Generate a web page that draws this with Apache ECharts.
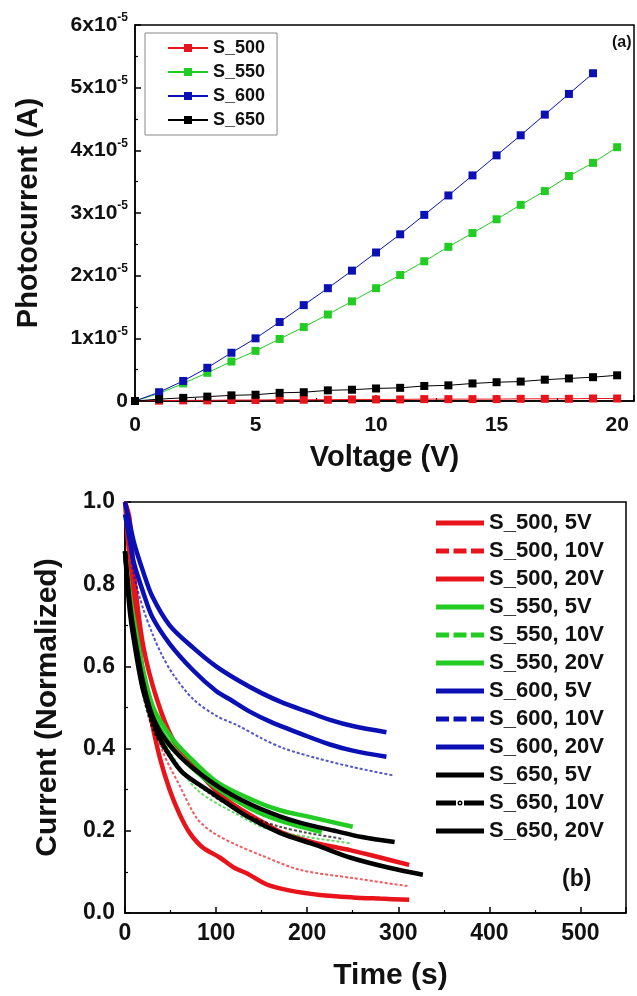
<!DOCTYPE html>
<html>
<head>
<meta charset="utf-8">
<script src="https://cdn.jsdelivr.net/npm/echarts@6/dist/echarts.min.js"></script>
<style>
    html, body { margin: 0; padding: 0; background: #fff; }
    #chart { width: 637px; height: 996px; }
</style>
</head>
<body>
<div id="chart"></div>
<script>
// ---- panel (a): photocurrent vs voltage, values in units of 1e-5 A ----
const volts = [0, 1, 2, 3, 4, 5, 6, 7, 8, 9, 10, 11, 12, 13, 14, 15, 16, 17, 18, 19, 20]
const a500 = [0, 0.005, 0.01, 0.01, 0.015, 0.015, 0.02, 0.02, 0.02, 0.025, 0.025, 0.025, 0.03, 0.03, 0.03, 0.03, 0.035, 0.035, 0.035, 0.04, 0.04]
const a550 = [0, 0.12, 0.28, 0.45, 0.63, 0.8, 0.99, 1.18, 1.38, 1.59, 1.8, 2.01, 2.23, 2.46, 2.68, 2.9, 3.13, 3.35, 3.59, 3.8, 4.05]
const a600 = [0, 0.14, 0.32, 0.53, 0.77, 1.0, 1.26, 1.53, 1.8, 2.08, 2.37, 2.66, 2.97, 3.28, 3.6, 3.92, 4.24, 4.57, 4.9, 5.23]
const a650 = [0, 0.03, 0.05, 0.07, 0.09, 0.1, 0.13, 0.14, 0.17, 0.18, 0.2, 0.21, 0.24, 0.25, 0.28, 0.3, 0.31, 0.34, 0.36, 0.38, 0.41]
const aNames = ['S_500', 'S_550', 'S_600', 'S_650']
const yTicksA = [0, 1, 2, 3, 4, 5, 6]

// ---- panel (b): normalized current decay, [time (s), current] ----
const b500_5 = [[0, 1.0], [5, 0.86], [10, 0.75], [15, 0.66], [20, 0.58], [27, 0.49], [38, 0.38], [49, 0.30], [60, 0.24], [71, 0.195], [85, 0.16], [104, 0.135], [120, 0.11], [135, 0.095], [155, 0.07], [180, 0.055], [214, 0.044], [250, 0.038], [280, 0.035], [312, 0.032]]
const b500_10 = [[0, 1.0], [5, 0.9], [10, 0.78], [20, 0.6], [30, 0.48], [42, 0.39], [60, 0.31], [79, 0.23], [97, 0.195], [123, 0.165], [150, 0.14], [192, 0.105], [250, 0.085], [312, 0.065]]
const b500_20 = [[0, 1.0], [5, 0.96], [10, 0.82], [20, 0.65], [35, 0.52], [53, 0.42], [68, 0.38], [90, 0.32], [115, 0.27], [148, 0.225], [173, 0.195], [210, 0.17], [247, 0.153], [280, 0.135], [312, 0.117]]
const b550_5 = [[0, 0.88], [5, 0.78], [10, 0.71], [20, 0.59], [31, 0.5], [50, 0.43], [68, 0.385], [100, 0.32], [140, 0.275], [170, 0.25], [200, 0.235], [250, 0.21]]
const b550_10 = [[0, 0.88], [5, 0.77], [10, 0.69], [20, 0.56], [31, 0.47], [50, 0.39], [79, 0.30], [123, 0.24], [156, 0.205], [200, 0.185], [247, 0.17]]
const b550_20 = [[0, 0.88], [5, 0.77], [10, 0.7], [20, 0.58], [31, 0.48], [50, 0.41], [68, 0.365], [100, 0.305], [137, 0.255], [170, 0.225], [216, 0.197]]
const b600_5 = [[0, 1.0], [5, 0.95], [10, 0.9], [20, 0.83], [30, 0.77], [49, 0.70], [75, 0.645], [100, 0.60], [125, 0.565], [150, 0.535], [175, 0.51], [200, 0.49], [225, 0.47], [250, 0.455], [287, 0.44]]
const b600_10 = [[0, 1.0], [5, 0.9], [10, 0.82], [20, 0.74], [30, 0.68], [40, 0.63], [53, 0.58], [75, 0.52], [100, 0.48], [125, 0.455], [150, 0.425], [175, 0.40], [210, 0.377], [250, 0.355], [294, 0.335]]
const b600_20 = [[0, 0.97], [5, 0.91], [10, 0.85], [20, 0.78], [30, 0.72], [49, 0.655], [75, 0.59], [100, 0.54], [115, 0.52], [137, 0.49], [160, 0.465], [200, 0.43], [225, 0.41], [250, 0.395], [287, 0.38]]
const b650_5 = [[0, 0.88], [5, 0.76], [10, 0.68], [20, 0.56], [30, 0.48], [45, 0.42], [68, 0.365], [104, 0.305], [137, 0.265], [170, 0.235], [192, 0.22], [230, 0.2], [260, 0.185], [296, 0.173]]
const b650_10 = [[0, 0.88], [5, 0.75], [10, 0.66], [20, 0.53], [30, 0.45], [45, 0.39], [70, 0.33], [100, 0.28], [137, 0.235], [170, 0.21], [200, 0.195], [240, 0.18]]
const b650_20 = [[0, 0.88], [5, 0.74], [10, 0.66], [20, 0.54], [35, 0.44], [50, 0.38], [64, 0.34], [97, 0.29], [134, 0.235], [170, 0.195], [210, 0.165], [247, 0.135], [290, 0.11], [327, 0.093]]

const RED = '#e8141b'
const GREEN = '#22cc22'
const BLUE = '#0a10b4'
const BLACK = '#000000'
const FONT = '"Liberation Sans", Arial, sans-serif'

// legend icons of panel (b), 48 x 5
const ICON_SOLID = 'path://M0,0h48v5h-48z'
const ICON_DASH = 'path://M0,0h13v5h-13zM17.5,0h13v5h-13zM35,0h13v5h-13z'
const ICON_DASHDOT = 'path://M0,0h20v5h-20zM28,0h20v5h-20zM21.5,2.5a2.5,2.5 0 1,1 5,0a2.5,2.5 0 1,1 -5,0zM22.9,2.5a1.1,1.1 0 1,0 2.2,0a1.1,1.1 0 1,0 -2.2,0z'

const chart = echarts.init(document.getElementById('chart'))

// panel (a) series: thin line + square markers
function seriesA(name, data, color) {
    return {
        name: name,
        type: 'line',
        xAxisIndex: 0,
        yAxisIndex: 0,
        data: data.map((v, i) => [volts[i], v]),
        symbol: 'rect',
        symbolSize: 8,
        itemStyle: { color: color },
        lineStyle: { color: color, width: 1 },
        z: 3
    }
}

// panel (b) series: thick for 5V / 20V, thin dashed for 10V
function seriesB(name, data, color, kind) {
    let s = {
        name: name,
        type: 'line',
        xAxisIndex: 1,
        yAxisIndex: 1,
        data: data,
        smooth: 0.3,
        symbol: 'none',
        itemStyle: { color: color },
        lineStyle: { color: color, width: 4.5 }
    }
    if (kind !== 'solid') {
        s.lineStyle = { color: color, width: 2, type: [3, 2], opacity: 0.7 }
    }
    return s
}

const bSeries = [
    seriesB('S_500, 5V', b500_5, RED, 'solid'),
    seriesB('S_500, 10V', b500_10, RED, 'dash'),
    seriesB('S_500, 20V', b500_20, RED, 'solid'),
    seriesB('S_550, 5V', b550_5, GREEN, 'solid'),
    seriesB('S_550, 10V', b550_10, GREEN, 'dash'),
    seriesB('S_550, 20V', b550_20, GREEN, 'solid'),
    seriesB('S_600, 5V', b600_5, BLUE, 'solid'),
    seriesB('S_600, 10V', b600_10, BLUE, 'dash'),
    seriesB('S_600, 20V', b600_20, BLUE, 'solid'),
    seriesB('S_650, 5V', b650_5, BLACK, 'solid'),
    seriesB('S_650, 10V', b650_10, BLACK, 'dashdot'),
    seriesB('S_650, 20V', b650_20, BLACK, 'solid')
]

const bLegendIcons = ['solid', 'dash', 'solid', 'solid', 'dash', 'solid', 'solid', 'dash', 'solid', 'solid', 'dashdot', 'solid']

const axisCommon = {
    axisLine: { show: true, onZero: false, lineStyle: { color: '#000', width: 1.5 } },
    axisTick: { show: true, inside: true, length: 6, lineStyle: { color: '#000', width: 1.5 } },
    minorTick: { show: true, splitNumber: 2, length: 3, lineStyle: { color: '#000', width: 1.2 } },
    splitLine: { show: false },
    nameLocation: 'middle'
}

const option = {
    backgroundColor: '#ffffff',
    animation: false,
    textStyle: { fontFamily: FONT },
    grid: [
        { left: 135, top: 25, right: 0, height: 376, show: true, borderColor: '#000', borderWidth: 1.5 },
        { left: 125, top: 502, right: 11, height: 411, show: true, borderColor: '#000', borderWidth: 1.5 }
    ],
    xAxis: [
        Object.assign({}, axisCommon, {
            type: 'value', gridIndex: 0, min: 0, max: 20.7, interval: 5,
            name: 'Voltage (V)', nameGap: 42,
            nameTextStyle: { fontSize: 29, fontWeight: 'bold', color: '#111', fontFamily: FONT },
            axisLabel: {
                margin: 14, fontSize: 21, fontWeight: 'bold', color: '#111', fontFamily: FONT,
                formatter: v => (v % 5 === 0 ? String(v) : '')
            }
        }),
        Object.assign({}, axisCommon, {
            type: 'value', gridIndex: 1, min: 0, max: 550, interval: 100,
            name: 'Time (s)', nameGap: 48,
            nameTextStyle: { fontSize: 30, fontWeight: 'bold', color: '#111', fontFamily: FONT, padding: [0, 0, 0, 30] },
            axisLabel: {
                margin: 9, fontSize: 23, fontWeight: 'bold', color: '#111', fontFamily: FONT,
                formatter: v => (v % 100 === 0 ? String(v) : '')
            }
        })
    ],
    yAxis: [
        Object.assign({}, axisCommon, {
            type: 'value', gridIndex: 0, min: 0, max: 6, interval: 1,
            name: 'Photocurrent (A)', nameGap: 92,
            nameTextStyle: { fontSize: 29, fontWeight: 'bold', color: '#111', fontFamily: FONT },
            axisLabel: {
                margin: 7, color: '#111', fontFamily: FONT,
                formatter: v => (yTicksA.indexOf(v) < 0 ? '' : (v === 0 ? '{m|0}' : '{m|' + v + 'x10}{s|-5}')),
                rich: {
                    m: { fontSize: 21, fontWeight: 'bold', color: '#111', fontFamily: FONT },
                    s: { fontSize: 12, fontWeight: 'bold', color: '#111', fontFamily: FONT, padding: [0, 0, 14, 0] }
                }
            }
        }),
        Object.assign({}, axisCommon, {
            type: 'value', gridIndex: 1, min: 0, max: 1, interval: 0.2,
            name: 'Current (Normalized)', nameGap: 62,
            nameTextStyle: { fontSize: 30, fontWeight: 'bold', color: '#111', fontFamily: FONT },
            axisLabel: {
                margin: 10, fontSize: 23, fontWeight: 'bold', color: '#111', fontFamily: FONT,
                formatter: v => v.toFixed(1)
            }
        })
    ],
    legend: [
        {
            data: aNames,
            orient: 'vertical',
            left: 145,
            top: 33,
            padding: [6, 12, 6, 22],
            itemWidth: 40,
            itemHeight: 10,
            itemGap: 6,
            borderColor: '#888',
            borderWidth: 1,
            textStyle: { fontSize: 18, fontWeight: 'bold', color: '#111', fontFamily: FONT, lineHeight: 18 }
        },
        {
            data: bSeries.map((s, i) => ({
                name: s.name,
                icon: bLegendIcons[i] === 'solid' ? ICON_SOLID : (bLegendIcons[i] === 'dash' ? ICON_DASH : ICON_DASHDOT)
            })),
            orient: 'vertical',
            left: 436,
            top: 512,
            padding: 0,
            itemWidth: 48,
            itemHeight: 5,
            itemGap: 6,
            textStyle: { fontSize: 22, fontWeight: 'bold', color: '#111', fontFamily: FONT, lineHeight: 22 }
        }
    ],
    graphic: [
        { type: 'text', left: 612, top: 35, style: { text: '(a)', font: 'bold 16px ' + FONT, fill: '#111' } },
        { type: 'text', left: 562, top: 868, style: { text: '(b)', font: 'bold 23px ' + FONT, fill: '#111' } }
    ],
    series: [
        seriesA('S_500', a500, RED),
        seriesA('S_550', a550, GREEN),
        seriesA('S_600', a600, BLUE),
        seriesA('S_650', a650, BLACK)
    ].concat(bSeries)
}

chart.setOption(option)
</script>
</body>
</html>
